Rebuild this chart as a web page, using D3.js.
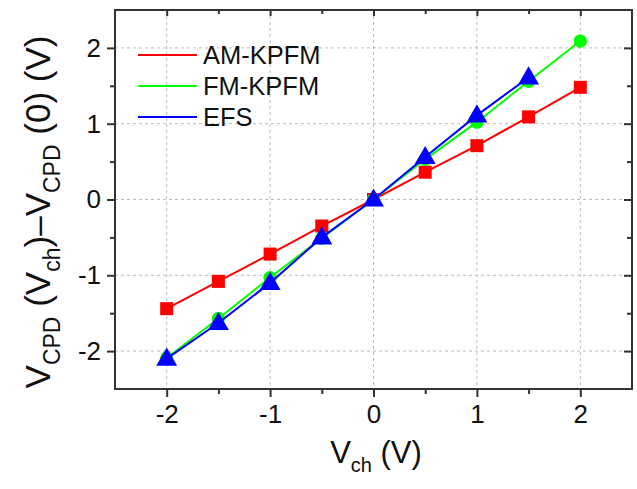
<!DOCTYPE html>
<html>
<head>
<meta charset="utf-8">
<script src="https://cdn.jsdelivr.net/npm/d3@7"></script>
<style>
  html, body { margin: 0; padding: 0; background: #fff; }
  svg { display: block; font-family: "Liberation Sans", Arial, sans-serif; }
</style>
</head>
<body>
<svg id="chart" width="637" height="489"></svg>
<script>
// Channel voltage (V)
const vch = [-2, -1.5, -1, -0.5, 0, 0.5, 1, 1.5, 2];
// CPD shift relative to V_ch = 0, per technique (V)
const amKpfm = [-1.44, -1.08, -0.72, -0.35, 0, 0.36, 0.71, 1.09, 1.48];
const fmKpfm = [-2.09, -1.57, -1.03, -0.51, 0, 0.53, 1.02, 1.56, 2.09];
const efs    = [-2.10, -1.63, -1.10, -0.50, 0, 0.56, 1.11, 1.61];
const seriesNames = ["AM-KPFM", "FM-KPFM", "EFS"];
const seriesColors = ["#ff0000", "#00ff00", "#0000ff"];
const seriesShapes = ["square", "circle", "triangle"];
const majorTicks = [-2, -1, 0, 1, 2];
const minorTicks = [-1.5, -0.5, 0.5, 1.5];

const svg = d3.select("#chart");
const m = { left: 115, top: 10, right: 632, bottom: 389 };

const x = d3.scaleLinear().domain([-2.5, 2.5]).range([m.left, m.right]);
const y = d3.scaleLinear().domain([-2.5, 2.5]).range([m.bottom, m.top]);

// dashed grid at major ticks
const grid = svg.append("g");
grid.selectAll(".gx").data(majorTicks).join("line")
  .attr("x1", d => x(d)).attr("x2", d => x(d))
  .attr("y1", m.top).attr("y2", m.bottom)
  .attr("stroke", "#bdbdbd").attr("stroke-width", 1).attr("stroke-dasharray", "3,3");
grid.selectAll(".gy").data(majorTicks).join("line")
  .attr("x1", m.left).attr("x2", m.right)
  .attr("y1", d => y(d)).attr("y2", d => y(d))
  .attr("stroke", "#bdbdbd").attr("stroke-width", 1).attr("stroke-dasharray", "3,3");

const axisColor = "#333";
function styleAxis(g) {
  g.select(".domain").remove();
  g.selectAll(".tick line").attr("stroke", axisColor).attr("stroke-width", 2);
  g.selectAll("text").attr("fill", "#111").attr("font-size", 26);
}
const fmt = d => d < 0 ? "-" + Math.abs(d) : String(d);

// bottom / left: outward ticks with labels
svg.append("g").attr("transform", `translate(0,${m.bottom})`)
  .call(d3.axisBottom(x).tickValues(majorTicks).tickFormat(fmt).tickSize(8).tickPadding(8))
  .call(styleAxis);
svg.append("g").attr("transform", `translate(0,${m.bottom})`)
  .call(d3.axisBottom(x).tickValues(minorTicks).tickFormat("").tickSize(5))
  .call(styleAxis);
svg.append("g").attr("transform", `translate(${m.left},0)`)
  .call(d3.axisLeft(y).tickValues(majorTicks).tickFormat(fmt).tickSize(8).tickPadding(6))
  .call(styleAxis);
svg.append("g").attr("transform", `translate(${m.left},0)`)
  .call(d3.axisLeft(y).tickValues(minorTicks).tickFormat("").tickSize(5))
  .call(styleAxis);

// top / right: inward ticks, no labels
svg.append("g").attr("transform", `translate(0,${m.top})`)
  .call(d3.axisBottom(x).tickValues(majorTicks).tickFormat("").tickSize(6))
  .call(styleAxis);
svg.append("g").attr("transform", `translate(0,${m.top})`)
  .call(d3.axisBottom(x).tickValues(minorTicks).tickFormat("").tickSize(4))
  .call(styleAxis);
svg.append("g").attr("transform", `translate(${m.right},0)`)
  .call(d3.axisLeft(y).tickValues(majorTicks).tickFormat("").tickSize(8))
  .call(styleAxis);
svg.append("g").attr("transform", `translate(${m.right},0)`)
  .call(d3.axisLeft(y).tickValues(minorTicks).tickFormat("").tickSize(5))
  .call(styleAxis);

// frame
svg.append("rect")
  .attr("x", m.left).attr("y", m.top)
  .attr("width", m.right - m.left).attr("height", m.bottom - m.top)
  .attr("fill", "none").attr("stroke", axisColor).attr("stroke-width", 2);

// series
const seriesData = [amKpfm, fmKpfm, efs];
const line = d3.line().x(d => x(d[0])).y(d => y(d[1]));
const symbolOf = { square: d3.symbolSquare, circle: d3.symbolCircle, triangle: d3.symbolTriangle };
const sizeOf = { square: 170, circle: 140, triangle: 190 };
seriesData.forEach((vals, i) => {
  const pts = vals.map((v, j) => [vch[j], v]);
  const g = svg.append("g");
  g.append("path").datum(pts).attr("d", line)
    .attr("fill", "none").attr("stroke", seriesColors[i]).attr("stroke-width", 2);
  const shape = seriesShapes[i];
  g.selectAll("path.mk").data(pts).join("path").attr("class", "mk")
    .attr("transform", d => `translate(${x(d[0])},${y(d[1]) + (shape === "triangle" ? 1 : 0)})`)
    .attr("d", d3.symbol().type(symbolOf[shape]).size(sizeOf[shape]))
    .attr("fill", seriesColors[i]);
});

// legend
const legend = svg.append("g");
seriesNames.forEach((name, i) => {
  const ly = 55 + i * 31;
  legend.append("line").attr("x1", 138).attr("x2", 197).attr("y1", ly).attr("y2", ly)
    .attr("stroke", seriesColors[i]).attr("stroke-width", 2);
  legend.append("text").attr("x", 203).attr("y", ly + 9).attr("font-size", 25.5)
    .attr("fill", "#111").text(name);
});

// axis titles
const xt = svg.append("text").attr("x", 376).attr("y", 463)
  .attr("text-anchor", "middle").attr("font-size", 31).attr("fill", "#111");
xt.append("tspan").text("V");
xt.append("tspan").attr("font-size", 20).attr("dy", 9).text("ch");
xt.append("tspan").attr("dy", -9).text(" (V)");

const yt = svg.append("text")
  .attr("transform", "translate(50,212) rotate(-90)")
  .attr("text-anchor", "middle").attr("font-size", 35).attr("fill", "#111");
yt.append("tspan").text("V");
yt.append("tspan").attr("font-size", 23).attr("dy", 10).text("CPD");
yt.append("tspan").attr("dy", -10).text(" (V");
yt.append("tspan").attr("font-size", 23).attr("dy", 10).text("ch");
yt.append("tspan").attr("dy", -10).text(")\u2013V");
yt.append("tspan").attr("font-size", 23).attr("dy", 10).text("CPD");
yt.append("tspan").attr("dy", -10).text(" (0) (V)");
</script>
</body>
</html>
